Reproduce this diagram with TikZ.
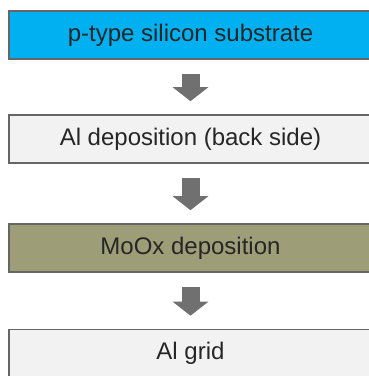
\documentclass[tikz,border=0pt]{standalone}
\usepackage{fontspec}
\setmainfont{Liberation Sans}
\usepackage{xcolor}
\usepackage{tikz}
\usetikzlibrary{arrows.meta}

\definecolor{substrateblue}{RGB}{0,176,240}
\definecolor{moxolive}{RGB}{157,157,120}
\definecolor{boxgray}{RGB}{242,242,242}
\definecolor{arrowgray}{RGB}{112,112,112}

\begin{document}
\begin{tikzpicture}[x=1pt, y=-1pt,
    stepbox/.style={draw=black!60, line width=1.6pt, minimum width=363pt,
        minimum height=48pt, inner sep=0pt, text=black!85,
        font=\fontsize{24}{28}\selectfont},
    flow/.style={arrowgray, line width=18pt, -{Triangle[width=35pt,length=14pt]},
        shorten <=14pt, shorten >=13pt}]
    % 1. Frame
    \useasboundingbox (0,0) rectangle (369,376);
    \clip (0,0) rectangle (369,376);

    % 2. Process steps
    \node[stepbox, fill=substrateblue] (sub) at (190.5,35) {p-type silicon substrate};
    \node[stepbox, fill=boxgray] (back) at (190.5,139) {Al deposition (back side)};
    \node[stepbox, fill=moxolive] (moox) at (190.5,248) {MoOx deposition};
    \node[stepbox, fill=boxgray] (grid) at (190.5,353.5) {Al grid};

    % 3. Arrows
    \draw[flow] (sub) -- (back);
    \draw[flow] (back) -- (moox);
    \draw[flow] (moox) -- (grid);
\end{tikzpicture}
\end{document}
